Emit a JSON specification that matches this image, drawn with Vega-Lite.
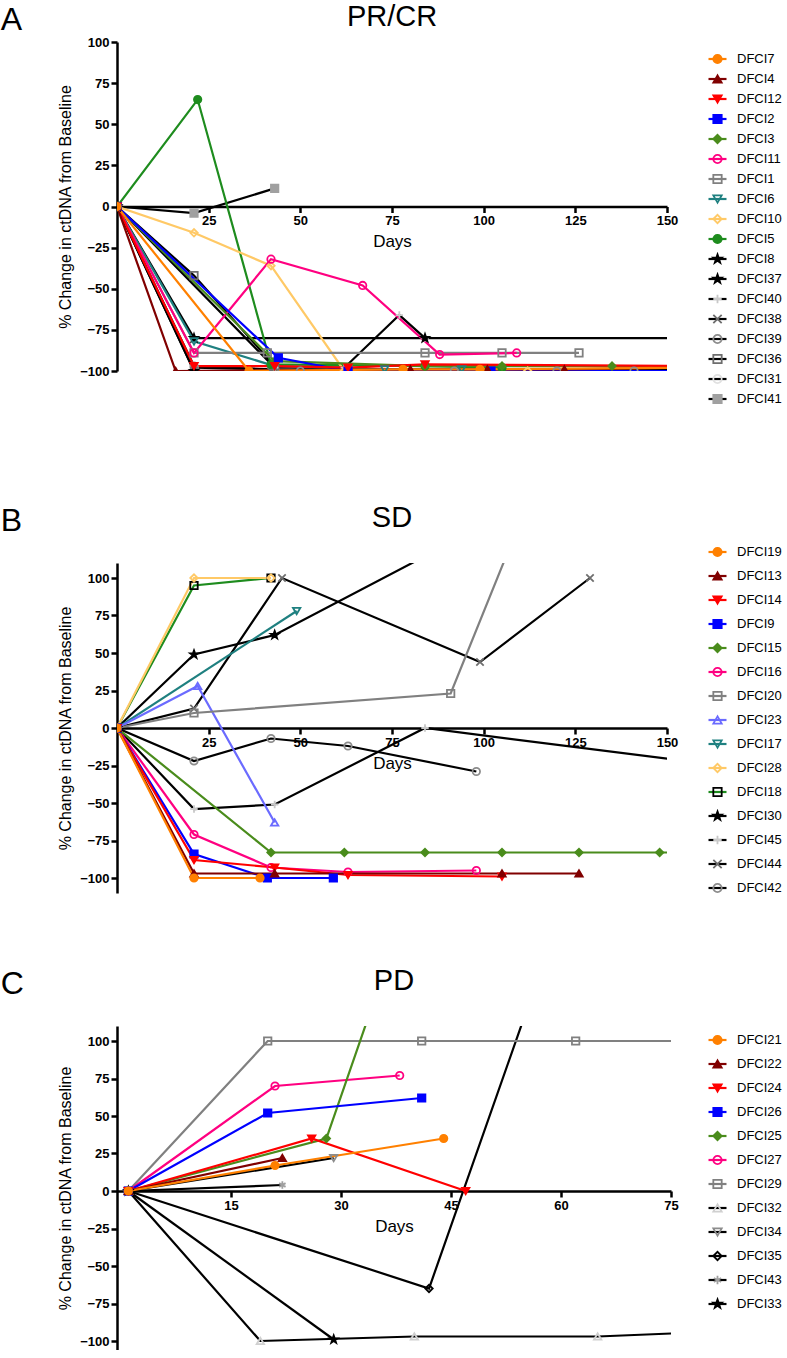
{
"$schema": "https://vega.github.io/schema/vega-lite/v6.json",
"padding": {"left": 0, "top": 3, "right": 0, "bottom": 0},
"config": {
 "font": "Liberation Sans",
 "view": {"stroke": null},
 "axis": {"grid": false, "domainColor": "black", "domainWidth": 2.5, "tickColor": "black", "tickWidth": 2.5, "tickSize": 6, "labelColor": "black", "labelFontSize": 13, "labelFontWeight": "bold", "labelPadding": 2, "titleColor": "black", "titleFontWeight": "normal", "titleFontSize": 16, "labelFlush": false, "labelOverlap": false},
 "title": {"fontWeight": "normal", "color": "black"},
 "legend": {"orient": "none", "title": null, "labelFontSize": 13, "labelColor": "black", "padding": 0, "clipHeight": 14}
},
"resolve": {"scale": {"color": "independent", "stroke": "independent", "fill": "independent", "shape": "independent", "x": "independent", "y": "independent"}, "legend": {"color": "independent", "stroke": "independent", "fill": "independent", "shape": "independent"}},
"datasets": {
 "A": [
  {"patient":"DFCI41","day":0,"change":0},{"patient":"DFCI41","day":21,"change":-4},{"patient":"DFCI41","day":43,"change":11},
  {"patient":"DFCI31","day":0,"change":0},{"patient":"DFCI31","day":21,"change":-98},{"patient":"DFCI31","day":43,"change":-99},
  {"patient":"DFCI36","day":0,"change":0},{"patient":"DFCI36","day":21,"change":-42},{"patient":"DFCI36","day":43,"change":-97},{"patient":"DFCI36","day":63,"change":-99},
  {"patient":"DFCI39","day":0,"change":0},{"patient":"DFCI39","day":21,"change":-97},{"patient":"DFCI39","day":50,"change":-100},{"patient":"DFCI39","day":92,"change":-100},{"patient":"DFCI39","day":120,"change":-100},{"patient":"DFCI39","day":141,"change":-100},
  {"patient":"DFCI38","day":0,"change":0},{"patient":"DFCI38","day":21,"change":-100},{"patient":"DFCI38","day":42,"change":-100},{"patient":"DFCI38","day":63,"change":-100},
  {"patient":"DFCI40","day":0,"change":0},{"patient":"DFCI40","day":43,"change":-98},{"patient":"DFCI40","day":62,"change":-98},{"patient":"DFCI40","day":77,"change":-66},{"patient":"DFCI40","day":84,"change":-80},
  {"patient":"DFCI37","day":0,"change":0},{"patient":"DFCI37","day":21,"change":-80},{"patient":"DFCI37","day":84,"change":-80},{"patient":"DFCI37","day":155,"change":-80},
  {"patient":"DFCI8","day":0,"change":0},{"patient":"DFCI8","day":21,"change":-100},{"patient":"DFCI8","day":155,"change":-99},
  {"patient":"DFCI5","day":0,"change":0},{"patient":"DFCI5","day":22,"change":65},{"patient":"DFCI5","day":42,"change":-96},{"patient":"DFCI5","day":84,"change":-97},{"patient":"DFCI5","day":105,"change":-98},
  {"patient":"DFCI10","day":0,"change":0},{"patient":"DFCI10","day":21,"change":-16},{"patient":"DFCI10","day":42,"change":-36},{"patient":"DFCI10","day":62,"change":-100},{"patient":"DFCI10","day":112,"change":-100},
  {"patient":"DFCI6","day":0,"change":0},{"patient":"DFCI6","day":21,"change":-82},{"patient":"DFCI6","day":43,"change":-97},{"patient":"DFCI6","day":73,"change":-99},{"patient":"DFCI6","day":94,"change":-99},
  {"patient":"DFCI1","day":0,"change":0},{"patient":"DFCI1","day":21,"change":-89},{"patient":"DFCI1","day":41,"change":-89},{"patient":"DFCI1","day":84,"change":-89},{"patient":"DFCI1","day":105,"change":-89},{"patient":"DFCI1","day":126,"change":-89},
  {"patient":"DFCI11","day":0,"change":0},{"patient":"DFCI11","day":21,"change":-89},{"patient":"DFCI11","day":42,"change":-32},{"patient":"DFCI11","day":67,"change":-48},{"patient":"DFCI11","day":88,"change":-90},{"patient":"DFCI11","day":109,"change":-89},
  {"patient":"DFCI3","day":0,"change":0},{"patient":"DFCI3","day":43,"change":-94},{"patient":"DFCI3","day":84,"change":-97},{"patient":"DFCI3","day":105,"change":-97},{"patient":"DFCI3","day":135,"change":-97},{"patient":"DFCI3","day":155,"change":-97},
  {"patient":"DFCI2","day":0,"change":0},{"patient":"DFCI2","day":44,"change":-92},{"patient":"DFCI2","day":63,"change":-100},{"patient":"DFCI2","day":102,"change":-100},{"patient":"DFCI2","day":155,"change":-100},
  {"patient":"DFCI12","day":0,"change":0},{"patient":"DFCI12","day":21,"change":-97},{"patient":"DFCI12","day":43,"change":-97},{"patient":"DFCI12","day":63,"change":-98},{"patient":"DFCI12","day":84,"change":-96},{"patient":"DFCI12","day":155,"change":-97},
  {"patient":"DFCI4","day":0,"change":0},{"patient":"DFCI4","day":16,"change":-100},{"patient":"DFCI4","day":80,"change":-99},{"patient":"DFCI4","day":101,"change":-99},{"patient":"DFCI4","day":122,"change":-99},{"patient":"DFCI4","day":155,"change":-98},
  {"patient":"DFCI7","day":0,"change":0},{"patient":"DFCI7","day":36,"change":-100},{"patient":"DFCI7","day":78,"change":-99},{"patient":"DFCI7","day":99,"change":-99},{"patient":"DFCI7","day":155,"change":-98}
 ],
 "B": [
  {"patient":"DFCI42","day":0,"change":0},{"patient":"DFCI42","day":21,"change":-22},{"patient":"DFCI42","day":42,"change":-7},{"patient":"DFCI42","day":63,"change":-12},{"patient":"DFCI42","day":98,"change":-29},
  {"patient":"DFCI44","day":0,"change":0},{"patient":"DFCI44","day":21,"change":13},{"patient":"DFCI44","day":45,"change":100},{"patient":"DFCI44","day":99,"change":44},{"patient":"DFCI44","day":129,"change":100},
  {"patient":"DFCI45","day":0,"change":0},{"patient":"DFCI45","day":21,"change":-54},{"patient":"DFCI45","day":43,"change":-51},{"patient":"DFCI45","day":84,"change":0},{"patient":"DFCI45","day":155,"change":-22},
  {"patient":"DFCI30","day":0,"change":0},{"patient":"DFCI30","day":21,"change":49},{"patient":"DFCI30","day":43,"change":62},{"patient":"DFCI30","day":100,"change":135},
  {"patient":"DFCI18","day":0,"change":0},{"patient":"DFCI18","day":21,"change":95},{"patient":"DFCI18","day":42,"change":100},
  {"patient":"DFCI28","day":0,"change":0},{"patient":"DFCI28","day":21,"change":100},{"patient":"DFCI28","day":42,"change":100},
  {"patient":"DFCI17","day":0,"change":0},{"patient":"DFCI17","day":49,"change":78},
  {"patient":"DFCI23","day":0,"change":0},{"patient":"DFCI23","day":22,"change":28},{"patient":"DFCI23","day":43,"change":-63},
  {"patient":"DFCI20","day":0,"change":0},{"patient":"DFCI20","day":21,"change":10},{"patient":"DFCI20","day":91,"change":23},{"patient":"DFCI20","day":112,"change":150},
  {"patient":"DFCI16","day":0,"change":0},{"patient":"DFCI16","day":21,"change":-71},{"patient":"DFCI16","day":42,"change":-93},{"patient":"DFCI16","day":63,"change":-96},{"patient":"DFCI16","day":98,"change":-95},
  {"patient":"DFCI15","day":0,"change":0},{"patient":"DFCI15","day":42,"change":-83},{"patient":"DFCI15","day":62,"change":-83},{"patient":"DFCI15","day":84,"change":-83},{"patient":"DFCI15","day":105,"change":-83},{"patient":"DFCI15","day":126,"change":-83},{"patient":"DFCI15","day":148,"change":-83},{"patient":"DFCI15","day":160,"change":-83},
  {"patient":"DFCI9","day":0,"change":0},{"patient":"DFCI9","day":21,"change":-84},{"patient":"DFCI9","day":41,"change":-100},{"patient":"DFCI9","day":59,"change":-100},
  {"patient":"DFCI14","day":0,"change":0},{"patient":"DFCI14","day":21,"change":-88},{"patient":"DFCI14","day":43,"change":-93},{"patient":"DFCI14","day":63,"change":-98},{"patient":"DFCI14","day":105,"change":-99},
  {"patient":"DFCI13","day":0,"change":0},{"patient":"DFCI13","day":21,"change":-97},{"patient":"DFCI13","day":43,"change":-97},{"patient":"DFCI13","day":105,"change":-97},{"patient":"DFCI13","day":126,"change":-97},
  {"patient":"DFCI19","day":0,"change":0},{"patient":"DFCI19","day":21,"change":-100},{"patient":"DFCI19","day":39,"change":-100}
 ],
 "C": [
  {"patient":"DFCI33","day":1,"change":0},{"patient":"DFCI33","day":29,"change":-99},
  {"patient":"DFCI43","day":1,"change":0},{"patient":"DFCI43","day":22,"change":4},
  {"patient":"DFCI35","day":1,"change":0},{"patient":"DFCI35","day":42,"change":-65},{"patient":"DFCI35","day":56,"change":130},
  {"patient":"DFCI34","day":1,"change":0},{"patient":"DFCI34","day":29,"change":22},
  {"patient":"DFCI32","day":1,"change":0},{"patient":"DFCI32","day":19,"change":-100},{"patient":"DFCI32","day":40,"change":-97},{"patient":"DFCI32","day":65,"change":-97},{"patient":"DFCI32","day":80,"change":-94},
  {"patient":"DFCI29","day":1,"change":0},{"patient":"DFCI29","day":20,"change":100},{"patient":"DFCI29","day":41,"change":100},{"patient":"DFCI29","day":62,"change":100},{"patient":"DFCI29","day":80,"change":100},
  {"patient":"DFCI27","day":1,"change":0},{"patient":"DFCI27","day":21,"change":70},{"patient":"DFCI27","day":38,"change":77},
  {"patient":"DFCI25","day":1,"change":0},{"patient":"DFCI25","day":28,"change":35},{"patient":"DFCI25","day":36,"change":148},
  {"patient":"DFCI26","day":1,"change":0},{"patient":"DFCI26","day":20,"change":52},{"patient":"DFCI26","day":41,"change":62},
  {"patient":"DFCI24","day":1,"change":0},{"patient":"DFCI24","day":26,"change":35},{"patient":"DFCI24","day":47,"change":0},
  {"patient":"DFCI22","day":1,"change":0},{"patient":"DFCI22","day":22,"change":22},
  {"patient":"DFCI21","day":1,"change":0},{"patient":"DFCI21","day":21,"change":17},{"patient":"DFCI21","day":44,"change":35}
 ]
},
"spacing": 72,
"vconcat": [
 {
  "spacing": 98,
  "resolve": {"scale": {"color": "independent", "stroke": "independent", "fill": "independent", "shape": "independent", "x": "independent", "y": "independent"}, "legend": {"color": "independent", "stroke": "independent", "fill": "independent", "shape": "independent"}},
  "vconcat": [
   {
    "title": {"text": "A", "anchor": "start", "fontSize": 32, "offset": -34, "dx": -57},
    "vconcat": [{
     "title": {"text": "PR/CR", "fontSize": 29, "offset": 4},
     "width": 550, "height": 329,
     "data": {"name": "A"},
     "layer": [
      {"mark": {"type": "line", "strokeWidth": 2.2, "clip": true},
       "encoding": {
        "x": {"field": "day", "type": "quantitative", "scale": {"domain": [0, 150], "nice": false, "zero": false}, "axis": {"values": [25,50,75,100,125,150], "offset": -164.5, "title": "Days", "titleFontSize": 17, "titlePadding": 6}},
        "y": {"field": "change", "type": "quantitative", "scale": {"domain": [-100, 100], "nice": false}, "axis": {"values": [-100,-75,-50,-25,0,25,50,75,100], "title": "% Change in ctDNA from Baseline", "titlePadding": 6}},
        "color": {"field": "patient", "type": "nominal", "legend": {"values": ["DFCI7","DFCI4","DFCI12","DFCI2","DFCI3","DFCI11","DFCI1","DFCI6","DFCI10","DFCI5","DFCI8","DFCI37","DFCI40","DFCI38","DFCI39","DFCI36","DFCI31","DFCI41"], "legendX": 590, "legendY": 10, "rowPadding": 6, "symbolSize": 324, "symbolStrokeWidth": 2.2, "labelExpr": "''"}, "scale": {
         "domain": ["DFCI7","DFCI4","DFCI12","DFCI2","DFCI3","DFCI11","DFCI1","DFCI6","DFCI10","DFCI5","DFCI8","DFCI37","DFCI40","DFCI38","DFCI39","DFCI36","DFCI31","DFCI41","none"],
         "range": ["#FF8000","#800000","#FF0000","#0000FF","#4A8C1C","#FF0080","#808080","#1F8080","#FFC966","#1E8C1E","#000000","#000000","#000000","#000000","#000000","#000000","#000000","#000000","transparent"]}}
       }},
      {"mark": {"type": "point", "size": 55, "strokeWidth": 1.8, "opacity": 1, "clip": true},
       "encoding": {
        "x": {"field": "day", "type": "quantitative"},
        "y": {"field": "change", "type": "quantitative"},
        "stroke": {"field": "patient", "type": "nominal", "legend": {"legendX": 594, "legendY": 10, "rowPadding": 6, "symbolSize": 70, "symbolStrokeWidth": 1.8, "labelOffset": 13}, "scale": {
         "domain": ["DFCI7","DFCI4","DFCI12","DFCI2","DFCI3","DFCI11","DFCI1","DFCI6","DFCI10","DFCI5","DFCI8","DFCI37","DFCI40","DFCI38","DFCI39","DFCI36","DFCI31","DFCI41"],
         "range": ["#FF8000","#800000","#FF0000","#0000FF","#4A8C1C","#FF0080","#808080","#1F8080","#FFC966","#1E8C1E","#000000","#000000","#C8C8C8","#6E6E6E","#8C8C8C","#6E6E6E","#E0E0E0","#A0A0A0"]}},
        "fill": {"field": "patient", "type": "nominal", "legend": {"legendX": 594, "legendY": 10, "rowPadding": 6, "symbolSize": 70, "symbolStrokeWidth": 1.8, "labelOffset": 13}, "scale": {
         "domain": ["DFCI7","DFCI4","DFCI12","DFCI2","DFCI3","DFCI11","DFCI1","DFCI6","DFCI10","DFCI5","DFCI8","DFCI37","DFCI40","DFCI38","DFCI39","DFCI36","DFCI31","DFCI41"],
         "range": ["#FF8000","#800000","#FF0000","#0000FF","#4A8C1C","transparent","transparent","transparent","transparent","#1E8C1E","#000000","#000000","transparent","transparent","transparent","transparent","transparent","#A0A0A0"]}},
        "shape": {"field": "patient", "type": "nominal", "legend": {"legendX": 594, "legendY": 10, "rowPadding": 6, "symbolSize": 70, "symbolStrokeWidth": 1.8, "labelOffset": 13}, "scale": {
         "domain": ["DFCI7","DFCI4","DFCI12","DFCI2","DFCI3","DFCI11","DFCI1","DFCI6","DFCI10","DFCI5","DFCI8","DFCI37","DFCI40","DFCI38","DFCI39","DFCI36","DFCI31","DFCI41"],
         "range": ["circle","triangle-up","triangle-down","square","diamond","circle","square","triangle-down","diamond","circle",
          "M0,-1.1L0.26,-0.36L1.05,-0.34L0.42,0.14L0.65,0.89L0,0.44L-0.65,0.89L-0.42,0.14L-1.05,-0.34L-0.26,-0.36Z",
          "M0,-1.1L0.26,-0.36L1.05,-0.34L0.42,0.14L0.65,0.89L0,0.44L-0.65,0.89L-0.42,0.14L-1.05,-0.34L-0.26,-0.36Z",
          "M-1,0L1,0M0,-1L0,1","M-1,-1L1,1M-1,1L1,-1","circle","square","circle","square"]}}
       }}
     ]
    }]
   },
   {
    "title": {"text": "B", "anchor": "start", "fontSize": 32, "offset": -34, "dx": -57},
    "vconcat": [{
     "title": {"text": "SD", "fontSize": 29, "offset": 30},
     "width": 550, "height": 330,
     "data": {"name": "B"},
     "layer": [
      {"mark": {"type": "line", "strokeWidth": 2.2, "clip": true},
       "encoding": {
        "x": {"field": "day", "type": "quantitative", "scale": {"domain": [0, 150], "nice": false, "zero": false}, "axis": {"values": [25,50,75,100,125,150], "offset": -165, "title": "Days", "titleFontSize": 17, "titlePadding": 6}},
        "y": {"field": "change", "type": "quantitative", "scale": {"domain": [-110, 110], "nice": false}, "axis": {"values": [-100,-75,-50,-25,0,25,50,75,100], "title": "% Change in ctDNA from Baseline", "titlePadding": 6}},
        "color": {"field": "patient", "type": "nominal", "legend": {"values": ["DFCI19","DFCI13","DFCI14","DFCI9","DFCI15","DFCI16","DFCI20","DFCI23","DFCI17","DFCI28","DFCI18","DFCI30","DFCI45","DFCI44","DFCI42"], "legendX": 590, "legendY": -18, "rowPadding": 10, "symbolSize": 324, "symbolStrokeWidth": 2.2, "labelExpr": "''"}, "scale": {
         "domain": ["DFCI19","DFCI13","DFCI14","DFCI9","DFCI15","DFCI16","DFCI20","DFCI23","DFCI17","DFCI28","DFCI18","DFCI30","DFCI45","DFCI44","DFCI42","none"],
         "range": ["#FF8000","#800000","#FF0000","#0000FF","#4A8C1C","#FF0080","#808080","#6B6BFF","#1F8080","#FFC966","#1E8C1E","#000000","#000000","#000000","#000000","transparent"]}}
       }},
      {"mark": {"type": "point", "size": 55, "strokeWidth": 1.8, "opacity": 1, "clip": true},
       "encoding": {
        "x": {"field": "day", "type": "quantitative"},
        "y": {"field": "change", "type": "quantitative"},
        "stroke": {"field": "patient", "type": "nominal", "legend": {"legendX": 594, "legendY": -18, "rowPadding": 10, "symbolSize": 70, "symbolStrokeWidth": 1.8, "labelOffset": 13}, "scale": {
         "domain": ["DFCI19","DFCI13","DFCI14","DFCI9","DFCI15","DFCI16","DFCI20","DFCI23","DFCI17","DFCI28","DFCI18","DFCI30","DFCI45","DFCI44","DFCI42"],
         "range": ["#FF8000","#800000","#FF0000","#0000FF","#4A8C1C","#FF0080","#808080","#6B6BFF","#1F8080","#FFC966","#000000","#000000","#C8C8C8","#6E6E6E","#8C8C8C"]}},
        "fill": {"field": "patient", "type": "nominal", "legend": {"legendX": 594, "legendY": -18, "rowPadding": 10, "symbolSize": 70, "symbolStrokeWidth": 1.8, "labelOffset": 13}, "scale": {
         "domain": ["DFCI19","DFCI13","DFCI14","DFCI9","DFCI15","DFCI16","DFCI20","DFCI23","DFCI17","DFCI28","DFCI18","DFCI30","DFCI45","DFCI44","DFCI42"],
         "range": ["#FF8000","#800000","#FF0000","#0000FF","#4A8C1C","transparent","transparent","transparent","transparent","transparent","transparent","#000000","transparent","transparent","transparent"]}},
        "shape": {"field": "patient", "type": "nominal", "legend": {"legendX": 594, "legendY": -18, "rowPadding": 10, "symbolSize": 70, "symbolStrokeWidth": 1.8, "labelOffset": 13}, "scale": {
         "domain": ["DFCI19","DFCI13","DFCI14","DFCI9","DFCI15","DFCI16","DFCI20","DFCI23","DFCI17","DFCI28","DFCI18","DFCI30","DFCI45","DFCI44","DFCI42"],
         "range": ["circle","triangle-up","triangle-down","square","diamond","circle","square","triangle-up","triangle-down","diamond","square",
          "M0,-1.1L0.26,-0.36L1.05,-0.34L0.42,0.14L0.65,0.89L0,0.44L-0.65,0.89L-0.42,0.14L-1.05,-0.34L-0.26,-0.36Z",
          "M-1,0L1,0M0,-1L0,1","M-1,-1L1,1M-1,1L1,-1","circle"]}}
       }}
     ]
    }]
   }
  ]
 },
 {
  "title": {"text": "C", "anchor": "start", "fontSize": 32, "offset": -34, "dx": -57},
  "vconcat": [{
   "title": {"text": "PD", "fontSize": 29, "offset": 30},
   "width": 554, "height": 324,
   "data": {"name": "C"},
   "layer": [
    {"mark": {"type": "line", "strokeWidth": 2.2, "clip": true},
     "encoding": {
      "x": {"field": "day", "type": "quantitative", "scale": {"domain": [-0.55, 75], "nice": false, "zero": false}, "axis": {"values": [15,30,45,60,75], "offset": -159, "title": "Days", "titleFontSize": 17, "titlePadding": 6}},
      "y": {"field": "change", "type": "quantitative", "scale": {"domain": [-106, 110], "nice": false}, "axis": {"values": [-100,-75,-50,-25,0,25,50,75,100], "title": "% Change in ctDNA from Baseline", "titlePadding": 6}},
      "color": {"field": "patient", "type": "nominal", "legend": {"values": ["DFCI21","DFCI22","DFCI24","DFCI26","DFCI25","DFCI27","DFCI29","DFCI32","DFCI34","DFCI35","DFCI43","DFCI33"], "legendX": 590, "legendY": 7, "rowPadding": 10, "symbolSize": 324, "symbolStrokeWidth": 2.2, "labelExpr": "''"}, "scale": {
       "domain": ["DFCI21","DFCI22","DFCI24","DFCI26","DFCI25","DFCI27","DFCI29","DFCI32","DFCI34","DFCI35","DFCI43","DFCI33","none"],
       "range": ["#FF8000","#800000","#FF0000","#0000FF","#4A8C1C","#FF0080","#808080","#000000","#000000","#000000","#000000","#000000","transparent"]}}
     }},
    {"mark": {"type": "point", "size": 55, "strokeWidth": 1.8, "opacity": 1, "clip": true},
     "encoding": {
      "x": {"field": "day", "type": "quantitative"},
      "y": {"field": "change", "type": "quantitative"},
      "stroke": {"field": "patient", "type": "nominal", "legend": {"legendX": 594, "legendY": 7, "rowPadding": 10, "symbolSize": 70, "symbolStrokeWidth": 1.8, "labelOffset": 13}, "scale": {
       "domain": ["DFCI21","DFCI22","DFCI24","DFCI26","DFCI25","DFCI27","DFCI29","DFCI32","DFCI34","DFCI35","DFCI43","DFCI33"],
       "range": ["#FF8000","#800000","#FF0000","#0000FF","#4A8C1C","#FF0080","#808080","#D0D0D0","#8C8C8C","#000000","#A0A0A0","#000000"]}},
      "fill": {"field": "patient", "type": "nominal", "legend": {"legendX": 594, "legendY": 7, "rowPadding": 10, "symbolSize": 70, "symbolStrokeWidth": 1.8, "labelOffset": 13}, "scale": {
       "domain": ["DFCI21","DFCI22","DFCI24","DFCI26","DFCI25","DFCI27","DFCI29","DFCI32","DFCI34","DFCI35","DFCI43","DFCI33"],
       "range": ["#FF8000","#800000","#FF0000","#0000FF","#4A8C1C","transparent","transparent","transparent","transparent","transparent","transparent","#000000"]}},
      "shape": {"field": "patient", "type": "nominal", "legend": {"legendX": 594, "legendY": 7, "rowPadding": 10, "symbolSize": 70, "symbolStrokeWidth": 1.8, "labelOffset": 13}, "scale": {
       "domain": ["DFCI21","DFCI22","DFCI24","DFCI26","DFCI25","DFCI27","DFCI29","DFCI32","DFCI34","DFCI35","DFCI43","DFCI33"],
       "range": ["circle","triangle-up","triangle-down","square","diamond","circle","square","triangle-up","triangle-down","diamond",
        "M0,-1L0,1M-0.87,-0.5L0.87,0.5M-0.87,0.5L0.87,-0.5",
        "M0,-1.1L0.26,-0.36L1.05,-0.34L0.42,0.14L0.65,0.89L0,0.44L-0.65,0.89L-0.42,0.14L-1.05,-0.34L-0.26,-0.36Z"]}}
     }}
   ]
  }]
 }
]
}
